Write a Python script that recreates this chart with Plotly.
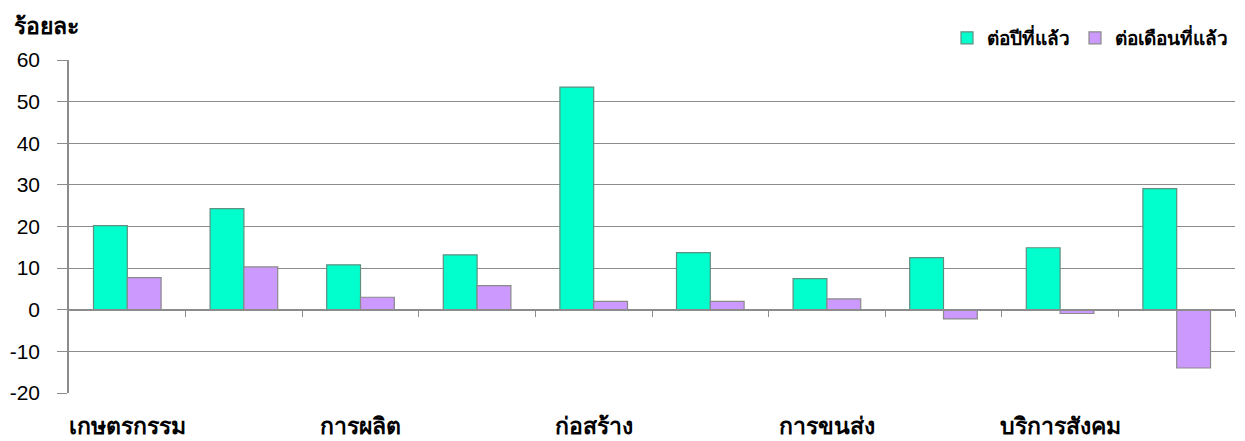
import plotly.graph_objects as go

categories = ["เกษตรกรรม", "หมวด 2", "การผลิต", "หมวด 4", "ก่อสร้าง",
              "หมวด 6", "การขนส่ง", "หมวด 8", "บริการสังคม", "หมวด 10"]
shown_labels = ["เกษตรกรรม", "การผลิต", "ก่อสร้าง", "การขนส่ง", "บริการสังคม"]
shown_index = [0, 2, 4, 6, 8]
yoy = [20.2, 24.3, 10.8, 13.2, 53.5, 13.7, 7.5, 12.5, 14.9, 29.1]
mom = [7.7, 10.3, 3.0, 5.8, 2.0, 2.0, 2.6, -2.2, -0.9, -14.0]
series_names = ["ต่อปีที่แล้ว", "ต่อเดือนที่แล้ว"]
y_ticks = [-20, -10, 0, 10, 20, 30, 40, 50, 60]
y_ticktext = ["-20", "-10", "0", "10", "20", "30", "40", "50", "60"]
y_title = "ร้อยละ"

x = list(range(len(categories)))
grid = "#8c8c8c"
font_fam = "Liberation Sans, Arial, Noto Sans, DejaVu Sans, sans-serif"

# page body has an 8px margin, so the figure is sized to fill the rest of the window
W, H = 1237, 433

fig = go.Figure()
fig.add_trace(go.Bar(x=x, y=yoy, name=series_names[0], marker_color="#00FFCC",
                     marker_line=dict(color="#5f8f80", width=1.2), hovertext=categories))
fig.add_trace(go.Bar(x=x, y=mom, name=series_names[1], marker_color="#CC99FF",
                     marker_line=dict(color="#8a8a8a", width=1.2), hovertext=categories))
# empty trace so the zero-line category axis (xaxis2) is drawn
fig.add_trace(go.Scatter(x=[], y=[], xaxis="x2", yaxis="y", showlegend=False,
                         hoverinfo="skip"))

fig.update_layout(
    width=W, height=H,
    margin=dict(l=61, r=10, t=52, b=48, autoexpand=False),
    paper_bgcolor="white", plot_bgcolor="white",
    barmode="group", bargap=0.42, bargroupgap=0,
    font=dict(family=font_fam, color="black"),
    showlegend=True,
    legend=dict(orientation="h", x=1 - 12 / W, xanchor="right", xref="container",
                y=1 - 30 / H, yanchor="middle", yref="container",
                font=dict(size=19, family=font_fam, weight="bold"),
                itemwidth=30, tracegroupgap=0, bgcolor="rgba(0,0,0,0)"),
    xaxis=dict(range=[-0.5, len(categories) - 0.5], tickmode="array",
               tickvals=shown_index, ticktext=shown_labels,
               showline=False, showgrid=False, zeroline=False, ticks="",
               ticklabelstandoff=17,
               tickfont=dict(size=23, family=font_fam, weight="bold")),
    xaxis2=dict(range=[-0.5, len(categories) - 0.5], overlaying="x", anchor="free",
                position=0.2492, side="bottom", showline=True, linecolor=grid, linewidth=1.5,
                tickmode="array", tickvals=[i + 0.5 for i in x], ticks="outside",
                ticklen=6, tickcolor=grid, tickwidth=1, showticklabels=False,
                showgrid=False, zeroline=False),
    yaxis=dict(range=[-20, 60], tickmode="array", tickvals=y_ticks, ticktext=y_ticktext,
               showgrid=True, gridcolor=grid, gridwidth=1,
               zeroline=False, showline=True, linecolor=grid, linewidth=1.5,
               ticks="outside", ticklen=10, tickcolor=grid, tickwidth=1,
               ticklabelstandoff=13,
               tickfont=dict(size=21, family=font_fam)),
    annotations=[dict(text=y_title, xref="paper", yref="paper",
                      x=-57 / (W - 71), xanchor="left",
                      y=1 + 34 / 333, yanchor="middle", showarrow=False,
                      font=dict(size=23, family=font_fam, weight="bold"))],
)

fig.write_html("out.html")
